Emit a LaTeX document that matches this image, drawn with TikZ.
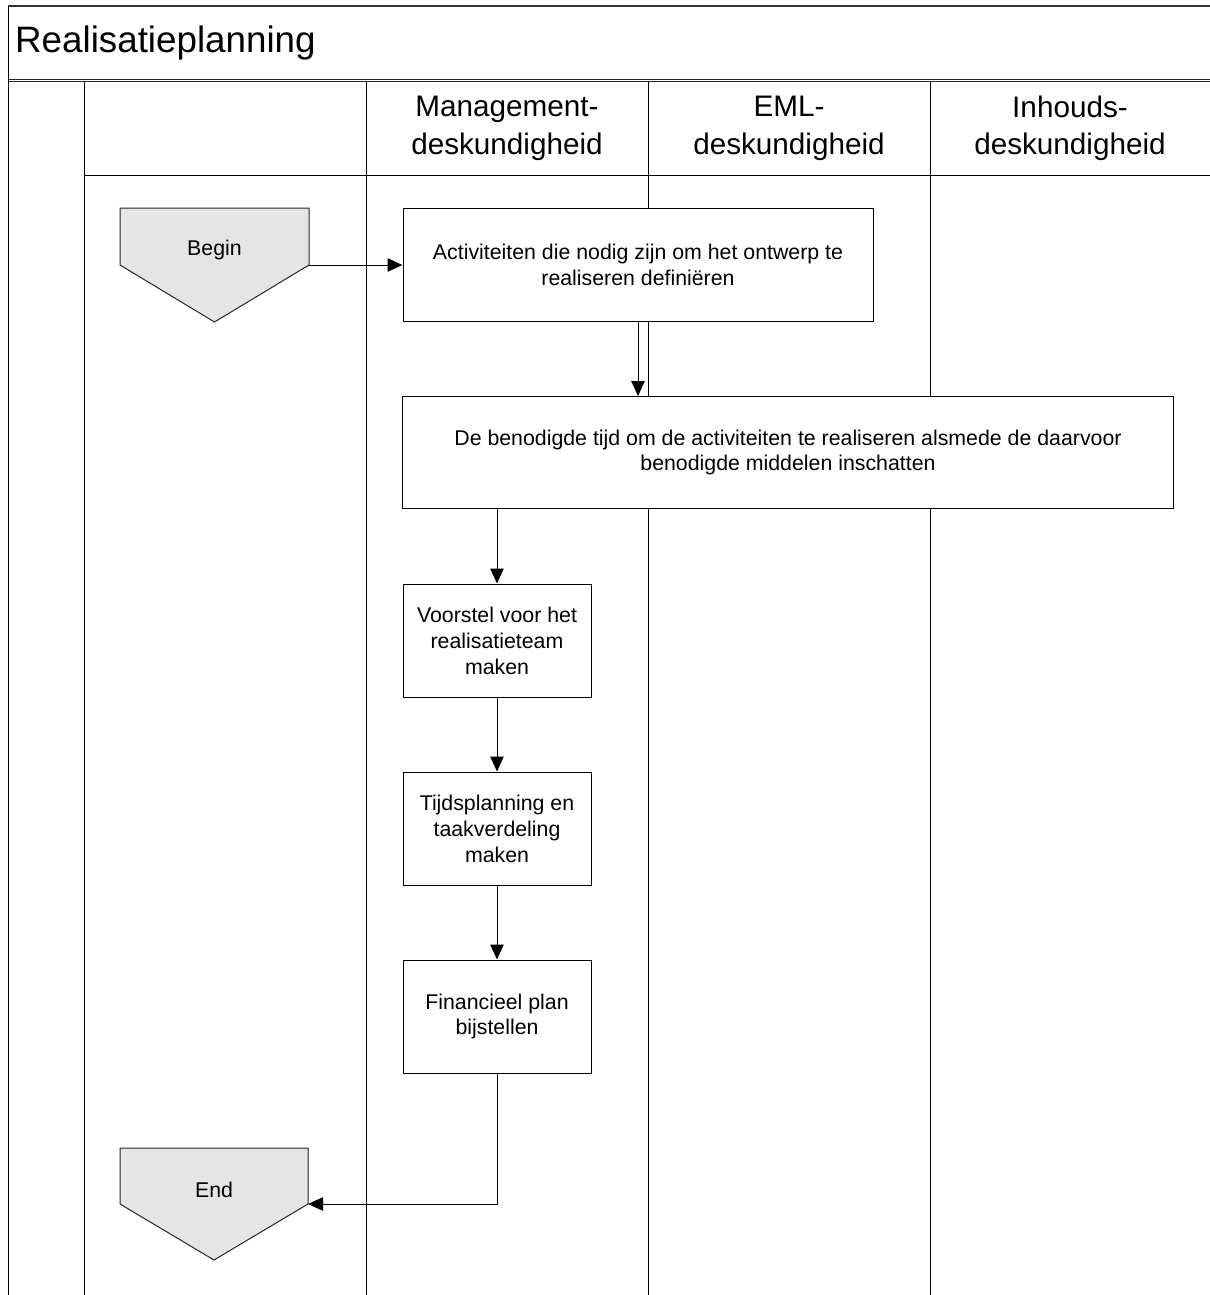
\documentclass[tikz,border=0pt]{standalone}
\usepackage{fontspec}
\setmainfont{Liberation Sans}
\usetikzlibrary{arrows.meta}
\tikzset{
  frameline/.style={line width=1bp, draw=black},
  laneline/.style={line width=1bp, draw=black},
  procbox/.style={draw=black, fill=white, line width=1bp, align=center, inner sep=0pt,
    font=\fontsize{21.4}{26}\selectfont},
  termshape/.style={draw=black!85, fill=black!10, line width=1bp},
  termtext/.style={font=\fontsize{21.4}{26}\selectfont, inner sep=0pt},
  lanehead/.style={align=center, inner sep=0pt, font=\fontsize{29.8}{37.5}\selectfont},
  flow/.style={draw=black, line width=1bp, -{Triangle[length=15bp,width=13.5bp]}}
}
\begin{document}
\begin{tikzpicture}[x=1bp,y=-1bp]
\useasboundingbox (0,0) rectangle (1210,1295);
% outer frame
\draw[line width=1.6bp, draw=black!80] (8,6) -- (1212,6);
\draw[frameline] (8,5.5) -- (8,1296);
\node[anchor=west, inner sep=0pt, font=\fontsize{36.9}{42}\selectfont] (title) at (15,43) {Realisatieplanning};
% header double line
\draw[line width=1.2bp, draw=black!85] (8,79.3) -- (1212,79.3);
\draw[line width=1.2bp, draw=black!85] (8,81.7) -- (1212,81.7);
% lanes
\foreach \xx in {84,366,648,930}{
  \draw[laneline] (\xx,82) -- (\xx,1296);
}
\draw[laneline] (84,175) -- (1212,175);
\node[lanehead] (h1) at (507,128.5) {Management-\\deskundigheid};
\node[lanehead] (h2) at (789,128.5) {EML-\\deskundigheid};
\node[lanehead] (h3) at (1070,128.5) {Inhouds-\\deskundigheid};
% Begin terminal
\draw[termshape] (120,208) -- (309,208) -- (309,265) -- (214.5,322) -- (120,265) -- cycle;
\node[termtext] (begin) at (214.5,250) {Begin};
\coordinate (beginR) at (309,265);
% End terminal
\draw[termshape] (120,1148) -- (308,1148) -- (308,1204) -- (214,1260) -- (120,1204) -- cycle;
\node[termtext] (end) at (214,1190) {End};
\coordinate (endR) at (308,1204);
% process boxes
\node[procbox, minimum width=470bp, minimum height=113bp] (b1) at (638,264.5)
  {Activiteiten die nodig zijn om het ontwerp te\\realiseren definiëren};
\node[procbox, minimum width=770bp, minimum height=112bp] (b2) at (788,452.5)
  {De benodigde tijd om de activiteiten te realiseren alsmede de daarvoor\\benodigde middelen inschatten};
\node[procbox, minimum width=188bp, minimum height=113bp] (b3) at (497,640.5)
  {Voorstel voor het\\realisatieteam\\maken};
\node[procbox, minimum width=188bp, minimum height=113bp] (b4) at (497,828.5)
  {Tijdsplanning en\\taakverdeling\\maken};
\node[procbox, minimum width=188bp, minimum height=113bp] (b5) at (497,1016.5)
  {Financieel plan\\bijstellen};
% connectors
\draw[flow] (beginR) -- (b1.west |- beginR);
\draw[flow] (b1.south) -- (b1.south |- b2.north);
\draw[flow] (b3.north |- b2.south) -- (b3.north);
\draw[flow] (b3.south) -- (b4.north);
\draw[flow] (b4.south) -- (b5.north);
\draw[flow] (b5.south) -- (b5.south |- endR) -- (endR);
\end{tikzpicture}
\end{document}
